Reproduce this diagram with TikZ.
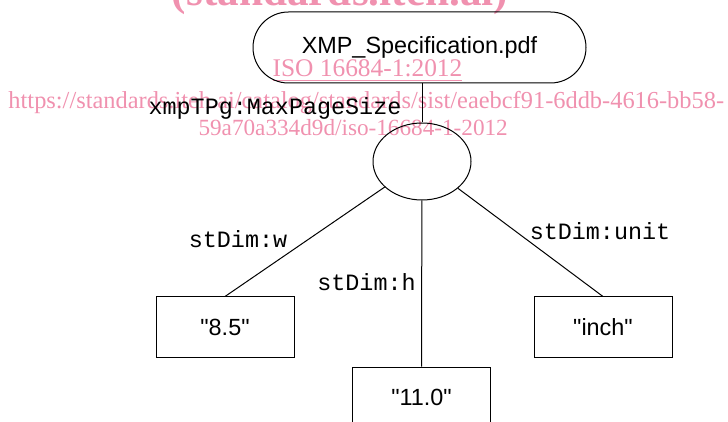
\documentclass[tikz,border=0pt]{standalone}
\usepackage{fontspec}
\setmainfont{Liberation Serif}
\setmonofont{Liberation Mono}
\newfontfamily\litfont{Liberation Sans}
\usepackage{tikz}
\usetikzlibrary{shapes.geometric}
\definecolor{wmark}{RGB}{240,145,175}

\begin{document}
\begin{tikzpicture}[x=0.5pt,y=-0.5pt,line width=0.5pt,
    res/.style={draw,rounded corners=17.75pt,minimum width=166.5pt,minimum height=35.5pt,
      font=\litfont\fontsize{11.7}{14}\selectfont},
    blank/.style={draw,ellipse,minimum width=49pt,minimum height=38.5pt},
    lit/.style={draw,minimum width=69pt,minimum height=30pt,
      font=\litfont\fontsize{11.7}{14}\selectfont},
    prop/.style={inner sep=0pt,font=\ttfamily\fontsize{11.7}{14}\selectfont},
    wm/.style={inner sep=0pt,text=wmark,font=\fontsize{12.7}{15}\selectfont}]
        \useasboundingbox (0,0) rectangle (728,422);
        \clip (0,0) rectangle (728,422);

        % watermark
        \path
        (340,6) node[wm,anchor=base,font=\bfseries\fontsize{21.6}{26}\selectfont](wmsite) {(standards.iteh.ai)}
        (367.5,77) node[wm,anchor=base](wmiso) {\underline{ISO 16684-1:2012}}
        (8,109) node[wm,anchor=base west,font=\fontsize{12.2}{15}\selectfont](wmurl) {https://standards.iteh.ai/catalog/standards/sist/eaebcf91-6ddb-4616-bb58-}
        (198,136) node[wm,anchor=base west,font=\fontsize{11.6}{15}\selectfont](wmurlb) {59a70a334d9d/iso-16684-1-2012}
        ;

        \path
        (419.5,47.5) node[res](doc) {XMP\_Specification.pdf}
        (422,161.5) node[blank](size) {}
        (225,327) node[lit](w) {"8.5"}
        (421.5,397) node[lit](h) {"11.0"}
        (603,327) node[lit](unit) {"inch"}
        (275,108) node[prop](psize) {xmpTPg:MaxPageSize}
        (238,239) node[prop](pw) {stDim:w}
        (366.5,282) node[prop](ph) {stDim:h}
        (600,231) node[prop](punit) {stDim:unit}
        ;

        \draw (doc.south -| size) -- (size);
        \draw (size) -- (w.north);
        \draw (size) -- (h.north);
        \draw (size) -- (unit.north);
      \end{tikzpicture}
\end{document}
